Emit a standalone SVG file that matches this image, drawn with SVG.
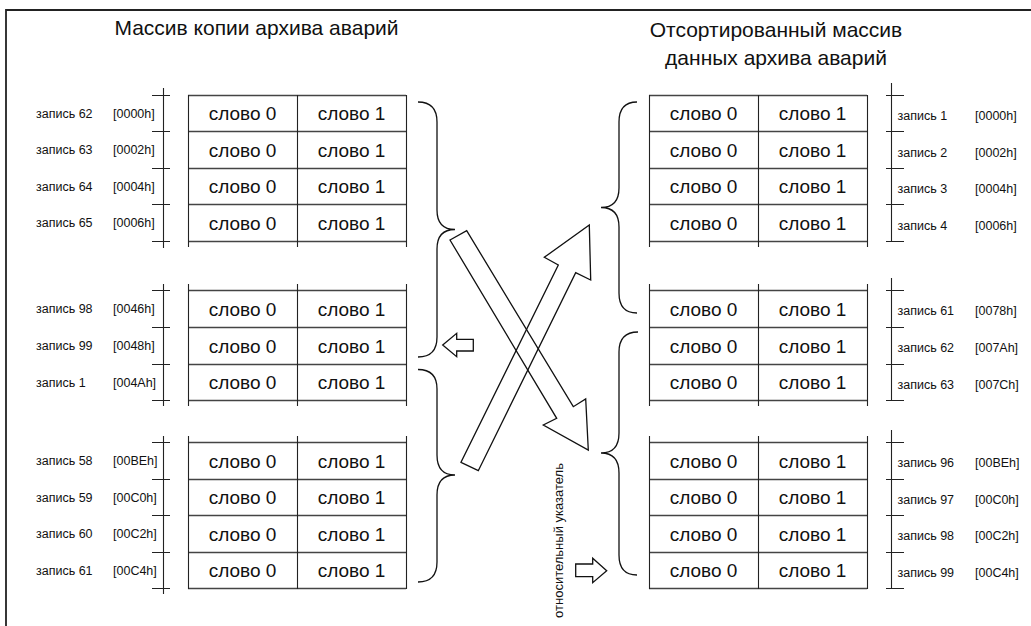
<svg xmlns="http://www.w3.org/2000/svg" width="1031" height="626" viewBox="0 0 1031 626">
<style>
.ln{stroke:#222;stroke-width:1.1;fill:none}
.hl{stroke:#444;stroke-width:1.4;fill:none}
.br{stroke:#111;stroke-width:1.3;fill:none}
.ar{stroke:#111;stroke-width:1.3;fill:none;stroke-linejoin:miter}
.w{font-family:"Liberation Sans",Arial,sans-serif;font-size:19px;fill:#111;text-anchor:middle}
.lb{font-family:"Liberation Sans",Arial,sans-serif;font-size:12.5px;fill:#111}
.t{font-family:"Liberation Sans",Arial,sans-serif;font-size:21px;fill:#111}
.v{font-family:"Liberation Sans",Arial,sans-serif;font-size:13px;fill:#111;text-anchor:middle}
</style>
<rect width="1031" height="626" fill="#fff"/>
<path d="M6,626 V10 H1031" stroke="#222" stroke-width="1.8" fill="none"/>
<text class="t" x="256.5" y="34.5" text-anchor="middle">Массив копии архива аварий</text>
<text class="t" x="776" y="37" text-anchor="middle">Отсортированный массив</text>
<text class="t" x="776" y="65" text-anchor="middle">данных архива аварий</text>

<g id="left-block-1">
<path class="hl" d="M188,95.5H406M188,131.5H406M188,168.5H406M188,204.5H406M188,241.5H406"/>
<path class="ln" d="M188.5,95V247M297.5,95V247M406.5,95V247"/>
<path class="ln" d="M163.5,88V248M152,95.5H170M152,131.5H170M152,168.5H170M152,204.5H170M152,241.5H170"/>
<text class="w" x="242.5" y="120">слово 0</text><text class="w" x="351.5" y="120">слово 1</text>
<text class="w" x="242.5" y="156.5">слово 0</text><text class="w" x="351.5" y="156.5">слово 1</text>
<text class="w" x="242.5" y="193">слово 0</text><text class="w" x="351.5" y="193">слово 1</text>
<text class="w" x="242.5" y="229.5">слово 0</text><text class="w" x="351.5" y="229.5">слово 1</text>
<text class="lb" x="36" y="117.5">запись 62</text><text class="lb" x="113" y="117.5">[0000h]</text>
<text class="lb" x="36" y="154">запись 63</text><text class="lb" x="113" y="154">[0002h]</text>
<text class="lb" x="36" y="190.5">запись 64</text><text class="lb" x="113" y="190.5">[0004h]</text>
<text class="lb" x="36" y="227">запись 65</text><text class="lb" x="113" y="227">[0006h]</text>
</g>

<g id="left-block-2">
<path class="hl" d="M188,290.5H406M188,327.5H406M188,364.5H406M188,400.5H406"/>
<path class="ln" d="M188.5,284V406M297.5,284V406M406.5,284V406"/>
<path class="ln" d="M163.5,284V406M152,290.5H170M152,327.5H170M152,364.5H170M152,400.5H170"/>
<text class="w" x="242.5" y="315.5">слово 0</text><text class="w" x="351.5" y="315.5">слово 1</text>
<text class="w" x="242.5" y="352.5">слово 0</text><text class="w" x="351.5" y="352.5">слово 1</text>
<text class="w" x="242.5" y="389">слово 0</text><text class="w" x="351.5" y="389">слово 1</text>
<text class="lb" x="36" y="313">запись 98</text><text class="lb" x="113" y="313">[0046h]</text>
<text class="lb" x="36" y="350">запись 99</text><text class="lb" x="113" y="350">[0048h]</text>
<text class="lb" x="36" y="386.5">запись 1</text><text class="lb" x="113" y="386.5">[004Ah]</text>
</g>

<g id="left-block-3">
<path class="hl" d="M188,442.5H406M188,479.5H406M188,515.5H406M188,552.5H406M188,588.5H406"/>
<path class="ln" d="M188.5,436V589M297.5,436V589M406.5,436V589"/>
<path class="ln" d="M163.5,436V594M152,442.5H170M152,479.5H170M152,515.5H170M152,552.5H170M152,588.5H170"/>
<text class="w" x="242.5" y="467.5">слово 0</text><text class="w" x="351.5" y="467.5">слово 1</text>
<text class="w" x="242.5" y="504">слово 0</text><text class="w" x="351.5" y="504">слово 1</text>
<text class="w" x="242.5" y="540.5">слово 0</text><text class="w" x="351.5" y="540.5">слово 1</text>
<text class="w" x="242.5" y="577">слово 0</text><text class="w" x="351.5" y="577">слово 1</text>
<text class="lb" x="36" y="465">запись 58</text><text class="lb" x="113" y="465">[00BEh]</text>
<text class="lb" x="36" y="501.5">запись 59</text><text class="lb" x="113" y="501.5">[00C0h]</text>
<text class="lb" x="36" y="538">запись 60</text><text class="lb" x="113" y="538">[00C2h]</text>
<text class="lb" x="36" y="575">запись 61</text><text class="lb" x="113" y="575">[00C4h]</text>
</g>

<g id="right-block-1">
<path class="hl" d="M649,95.5H867M649,131.5H867M649,168.5H867M649,204.5H867M649,241.5H867"/>
<path class="ln" d="M649.5,95V247M758.5,95V247M867.5,95V247"/>
<path class="ln" d="M891.5,83V241.5M886,95.5H904M886,131.5H904M886,168.5H904M886,204.5H904M886,241.5H904"/>
<text class="w" x="703.5" y="120">слово 0</text><text class="w" x="812.5" y="120">слово 1</text>
<text class="w" x="703.5" y="156.5">слово 0</text><text class="w" x="812.5" y="156.5">слово 1</text>
<text class="w" x="703.5" y="193">слово 0</text><text class="w" x="812.5" y="193">слово 1</text>
<text class="w" x="703.5" y="229.5">слово 0</text><text class="w" x="812.5" y="229.5">слово 1</text>
<text class="lb" x="897.5" y="120">запись 1</text><text class="lb" x="975" y="120">[0000h]</text>
<text class="lb" x="897.5" y="156.5">запись 2</text><text class="lb" x="975" y="156.5">[0002h]</text>
<text class="lb" x="897.5" y="193">запись 3</text><text class="lb" x="975" y="193">[0004h]</text>
<text class="lb" x="897.5" y="229.5">запись 4</text><text class="lb" x="975" y="229.5">[0006h]</text>
</g>

<g id="right-block-2">
<path class="hl" d="M649,290.5H867M649,327.5H867M649,364.5H867M649,400.5H867"/>
<path class="ln" d="M649.5,284V406M758.5,284V406M867.5,284V406"/>
<path class="ln" d="M891.5,278V400.5M886,290.5H904M886,327.5H904M886,364.5H904M886,400.5H904"/>
<text class="w" x="703.5" y="315.5">слово 0</text><text class="w" x="812.5" y="315.5">слово 1</text>
<text class="w" x="703.5" y="352.5">слово 0</text><text class="w" x="812.5" y="352.5">слово 1</text>
<text class="w" x="703.5" y="389">слово 0</text><text class="w" x="812.5" y="389">слово 1</text>
<text class="lb" x="897.5" y="315">запись 61</text><text class="lb" x="975" y="315">[0078h]</text>
<text class="lb" x="897.5" y="352">запись 62</text><text class="lb" x="975" y="352">[007Ah]</text>
<text class="lb" x="897.5" y="388.5">запись 63</text><text class="lb" x="975" y="388.5">[007Ch]</text>
</g>

<g id="right-block-3">
<path class="hl" d="M649,442.5H867M649,479.5H867M649,515.5H867M649,552.5H867M649,588.5H867"/>
<path class="ln" d="M649.5,436V589M758.5,436V589M867.5,436V589"/>
<path class="ln" d="M891.5,430V588.5M886,442.5H904M886,479.5H904M886,515.5H904M886,552.5H904M886,588.5H904"/>
<text class="w" x="703.5" y="467.5">слово 0</text><text class="w" x="812.5" y="467.5">слово 1</text>
<text class="w" x="703.5" y="504">слово 0</text><text class="w" x="812.5" y="504">слово 1</text>
<text class="w" x="703.5" y="540.5">слово 0</text><text class="w" x="812.5" y="540.5">слово 1</text>
<text class="w" x="703.5" y="577">слово 0</text><text class="w" x="812.5" y="577">слово 1</text>
<text class="lb" x="897.5" y="467">запись 96</text><text class="lb" x="975" y="467">[00BEh]</text>
<text class="lb" x="897.5" y="503.5">запись 97</text><text class="lb" x="975" y="503.5">[00C0h]</text>
<text class="lb" x="897.5" y="540">запись 98</text><text class="lb" x="975" y="540">[00C2h]</text>
<text class="lb" x="897.5" y="576.5">запись 99</text><text class="lb" x="975" y="576.5">[00C4h]</text>
</g>

<g id="braces">
<path id="brace-l1" class="br" d="M418,102 Q437,102 437,122 L437,210 Q437,229.5 455,229.5 Q437,229.5 437,249 L437,337 Q437,357 418,357"/>
<path id="brace-l2" class="br" d="M418,369.5 Q437,369.5 437,389 L437,455 Q437,475 455,475 Q437,475 437,495 L437,562 Q437,582 418,582"/>
<path id="brace-r1" class="br" d="M637,102 Q619,102 619,122 L619,188 Q619,207.5 601,207.5 Q619,207.5 619,227 L619,293 Q619,313 637,313"/>
<path id="brace-r2" class="br" d="M638,332 Q619,332 619,352 L619,433 Q619,453 601,453 Q619,453 619,473 L619,555 Q619,575 637,575"/>
</g>

<g id="connectors">
<polygon class="ar" points="461,462.3 478.3,470.7 575.7,272.7 590.7,280 589.3,225 544.3,257.3 558.3,265"/>
<polygon class="ar" points="450,240 466.7,230.7 573.3,406.7 585.7,399 588.3,450 543.3,425 556.7,418.3"/>
<polygon class="ar" points="442.7,345 456.7,333.3 456.7,339.3 473.3,339.3 473.3,351 456.7,351 456.7,356.7"/>
<polygon class="ar" points="575.7,564 592.7,564 592.7,558.3 606.7,570.7 592.7,582.7 592.7,576.7 575.7,576.7"/>
</g>

<text class="v" transform="translate(563,540.5) rotate(-90)">относительный указатель</text>
</svg>
